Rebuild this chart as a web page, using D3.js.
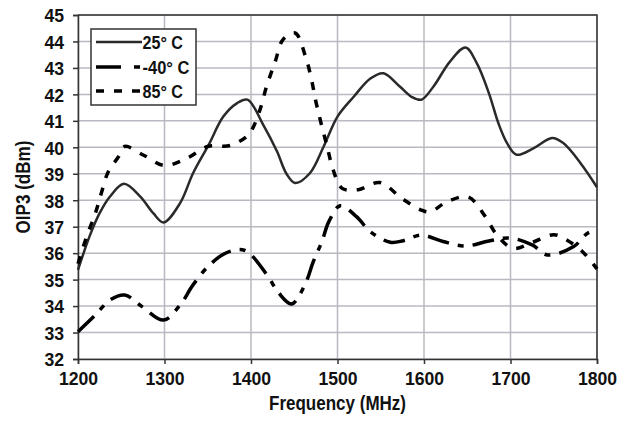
<!DOCTYPE html>
<html>
<head>
<meta charset="utf-8">
<script src="https://cdn.jsdelivr.net/npm/d3@7"></script>
<style>
  body { margin: 0; background: #fff; }
  text { font-family: "Liberation Sans", Arial, sans-serif; font-weight: bold; fill: #111; }
</style>
</head>
<body>
<svg width="631" height="425"></svg>
<script>
// values
const xTicks = [1200, 1300, 1400, 1500, 1600, 1700, 1800];
const yTicks = [32, 33, 34, 35, 36, 37, 38, 39, 40, 41, 42, 43, 44, 45];
const seriesNames = ["25° C", "-40° C", "85° C"];

const freq25 = [1200, 1214, 1225, 1237, 1253, 1272, 1287, 1299, 1318, 1333, 1351, 1368, 1384, 1396, 1414, 1430, 1441, 1451, 1468, 1484, 1500, 1519, 1538, 1553, 1572, 1586, 1597, 1611, 1630, 1648, 1661, 1675, 1686, 1696, 1707, 1727, 1748, 1761, 1781, 1800];
const oip25 = [35.37, 36.69, 37.51, 38.14, 38.62, 38.14, 37.51, 37.16, 37.89, 39.02, 40.09, 41.16, 41.67, 41.8, 40.86, 39.85, 39.0, 38.65, 39.02, 40.03, 41.16, 41.92, 42.6, 42.8, 42.3, 41.9, 41.8, 42.3, 43.24, 43.77, 43.18, 42.05, 40.91, 40.16, 39.72, 39.97, 40.35, 40.16, 39.4, 38.49];

const freqM40 = [1200, 1220, 1237, 1254, 1274, 1299, 1318, 1333, 1352, 1372, 1393, 1418, 1432, 1447, 1463, 1472, 1482, 1490, 1503, 1522, 1538, 1561, 1576, 1597, 1622, 1648, 1675, 1700, 1725, 1743, 1773, 1789, 1800];
const oipM40 = [33.03, 33.66, 34.23, 34.42, 33.98, 33.47, 34.04, 34.8, 35.55, 36.02, 36.1, 35.2, 34.5, 34.08, 34.86, 35.68, 36.44, 37.19, 37.79, 37.38, 36.81, 36.41, 36.47, 36.68, 36.44, 36.27, 36.46, 36.57, 36.31, 35.93, 36.25, 36.75, 36.88];

const freq85 = [1200, 1210, 1220, 1227, 1235, 1247, 1254, 1276, 1300, 1326, 1350, 1376, 1397, 1403, 1411, 1418, 1428, 1437, 1451, 1463, 1470, 1475, 1481, 1488, 1495, 1505, 1524, 1549, 1574, 1596, 1607, 1626, 1651, 1671, 1684, 1703, 1725, 1750, 1765, 1785, 1800];
const oip85 = [35.6, 36.63, 37.5, 38.27, 39.08, 39.65, 40.03, 39.7, 39.31, 39.59, 40.03, 40.07, 40.47, 40.79, 41.48, 42.3, 43.24, 44.07, 44.32, 43.43, 42.55, 41.73, 40.91, 40.03, 39.15, 38.46, 38.4, 38.67, 38.08, 37.64, 37.56, 37.93, 38.12, 37.38, 36.7, 36.18, 36.4, 36.7, 36.5, 36.0, 35.4];

const svg = d3.select("svg");
const margin = { left: 78, right: 34, top: 15, bottom: 66 };
const width = 631 - margin.left - margin.right;
const height = 425 - margin.top - margin.bottom;

const x = d3.scaleLinear().domain([1200, 1800]).range([margin.left, margin.left + width]);
const y = d3.scaleLinear().domain([32, 45]).range([margin.top + height, margin.top]);

// grid
svg.append("g").selectAll("line.h").data(yTicks).join("line")
  .attr("x1", x(1200)).attr("x2", x(1800))
  .attr("y1", d => y(d)).attr("y2", d => y(d))
  .attr("stroke", "#b9b9c2").attr("stroke-width", 1.5);
svg.append("g").selectAll("line.v").data(xTicks).join("line")
  .attr("x1", d => x(d)).attr("x2", d => x(d))
  .attr("y1", y(32)).attr("y2", y(45))
  .attr("stroke", "#b9b9c2").attr("stroke-width", 1.5);

// frame: top and right
svg.append("path")
  .attr("d", `M${x(1200)},${y(45)}H${x(1800)}V${y(32)}`)
  .attr("fill", "none").attr("stroke", "#333").attr("stroke-width", 1.5);

// axes
const xAxis = svg.append("g")
  .attr("transform", `translate(0,${y(32)})`)
  .call(d3.axisBottom(x).tickValues(xTicks).tickSize(5).tickPadding(8).tickFormat(d3.format("d")));
const yAxis = svg.append("g")
  .attr("transform", `translate(${x(1200)},0)`)
  .call(d3.axisLeft(y).tickValues(yTicks).tickSize(5).tickPadding(9).tickFormat(d3.format("d")));
[xAxis, yAxis].forEach(a => {
  a.select(".domain").attr("stroke", "#333").attr("stroke-width", 1.5);
  a.selectAll(".tick line").attr("stroke", "#333").attr("stroke-width", 1.5);
  // condensed look: squeeze the glyphs
  a.selectAll(".tick text")
    .style("font-size", "19px")
    .attr("textLength", d => String(d).length * 9.8)
    .attr("lengthAdjust", "spacingAndGlyphs")
    .attr("fill", "#111");
});
yAxis.selectAll(".tick text").attr("dy", "0.36em");

// axis titles
svg.append("text")
  .attr("x", (x(1200) + x(1800)) / 2).attr("y", 410)
  .attr("text-anchor", "middle").style("font-size", "21px")
  .attr("textLength", 137).attr("lengthAdjust", "spacingAndGlyphs")
  .text("Frequency (MHz)");
svg.append("text")
  .attr("transform", `translate(30,${(y(32) + y(45)) / 2}) rotate(-90)`)
  .attr("text-anchor", "middle").style("font-size", "21px")
  .attr("textLength", 93).attr("lengthAdjust", "spacingAndGlyphs")
  .text("OIP3 (dBm)");

// lines
const line = d3.line()
  .x(d => x(d[0])).y(d => y(d[1]))
  .curve(d3.curveCatmullRom.alpha(0.5));

const styles = [
  { w: 2.5, dash: null, color: "#2a2a2a" },
  { w: 3.5, dash: "22,9,6,9", color: "#000" },
  { w: 3.5, dash: "8,10", color: "#000" }
];
const series = [
  d3.zip(freq25, oip25),
  d3.zip(freqM40, oipM40),
  d3.zip(freq85, oip85)
];

svg.append("g").selectAll("path").data(series).join("path")
  .attr("d", line)
  .attr("fill", "none")
  .attr("stroke", (d, i) => styles[i].color)
  .attr("stroke-width", (d, i) => styles[i].w)
  .attr("stroke-dasharray", (d, i) => styles[i].dash);

// legend
const legend = svg.append("g");
legend.append("rect")
  .attr("x", 91).attr("y", 29).attr("width", 105).attr("height", 76)
  .attr("fill", "#fff").attr("stroke", "#333").attr("stroke-width", 1.5);
const rowY = [42, 67, 91];
const legendTextLen = [40.5, 47, 40.5];
seriesNames.forEach((name, i) => {
  legend.append("line")
    .attr("x1", 96).attr("x2", 142).attr("y1", rowY[i]).attr("y2", rowY[i])
    .attr("stroke", styles[i].color)
    .attr("stroke-width", styles[i].w)
    .attr("stroke-dasharray", i === 1 ? "25,13,6,20" : styles[i].dash);
  legend.append("text")
    .attr("x", 142.5).attr("y", rowY[i] + 6.5)
    .style("font-size", "18px")
    .attr("textLength", legendTextLen[i]).attr("lengthAdjust", "spacingAndGlyphs")
    .text(name);
});
</script>
</body>
</html>
